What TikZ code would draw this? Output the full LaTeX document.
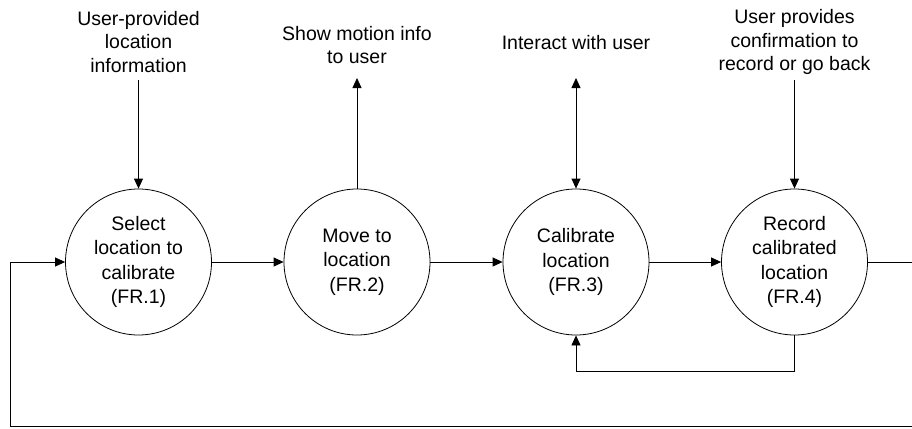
\documentclass[tikz,border=0pt]{standalone}
\usepackage{fontspec}
\setmainfont{Liberation Sans}
\usetikzlibrary{arrows.meta}
\begin{document}
\begin{tikzpicture}[x=1pt,y=-1pt,
  proc/.style={draw,circle,line width=0.8pt,minimum size=146pt,inner sep=0pt,align=center,font=\fontsize{19.5}{24.5}\selectfont},
  lbl/.style={align=center,font=\fontsize{19.5}{23.5}\selectfont},
  flow/.style={line width=0.8pt,-{Triangle[length=10pt,width=9pt]}},
  plain/.style={line width=0.8pt}]
\useasboundingbox (0,0) rectangle (912,428);
\node[proc] (p1) at (138.5,262) {Select\\location to\\calibrate\\(FR.1)};
\node[proc] (p2) at (357,262) {Move to\\location\\(FR.2)};
\node[proc] (p3) at (576,262) {Calibrate\\location\\(FR.3)};
\node[proc] (p4) at (794.5,262) {Record\\calibrated\\location\\(FR.4)};
\node[lbl] (t1) at (138.5,42) {User-provided\\location\\information};
\node[lbl] (t2) at (357,45) {Show motion info\\to user};
\node[lbl] (t3) at (576,43) {Interact with user};
\node[lbl] (t4) at (794.5,42) {User provides\\confirmation to\\record or go back};
\coordinate (a1) at (138.5,80);
\coordinate (a2) at (357,78);
\coordinate (a3) at (576,78);
\coordinate (a4) at (794.5,80);
\draw[flow] (a1) -- (p1.north);
\draw[flow] (p2.north) -- (a2);
\draw[line width=0.8pt,{Triangle[length=10pt,width=9pt]}-{Triangle[length=10pt,width=9pt]}] (a3) -- (p3.north);
\draw[flow] (a4) -- (p4.north);
\draw[flow] (p1.east) -- (p2.west);
\draw[flow] (p2.east) -- (p3.west);
\draw[flow] (p3.east) -- (p4.west);
\draw[flow] (p4.south) -- ++(0,36) -| (p3.south);
\coordinate (r1) at (914,262);
\coordinate (r2) at (914,426.8);
\coordinate (l1) at (10,426.8);
\coordinate (l2) at (10,262);
\draw[flow] (p4.east) -- (r1) -- (r2) -- (l1) -- (l2) -- (p1.west);
\end{tikzpicture}
\end{document}
